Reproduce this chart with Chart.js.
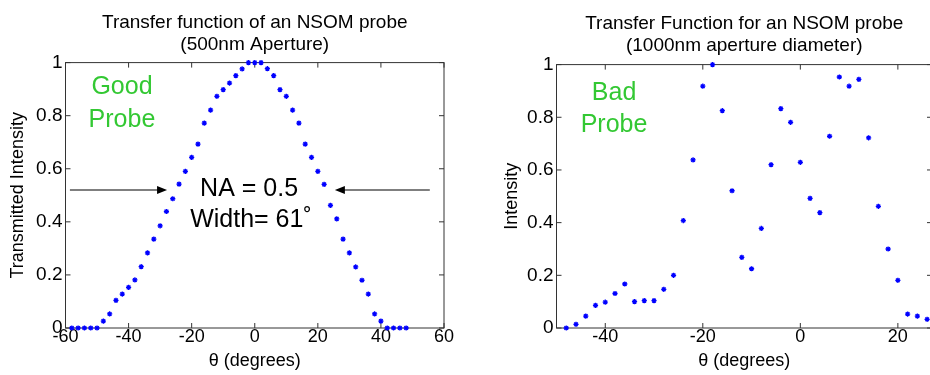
<!DOCTYPE html>
<html>
<head>
<meta charset="utf-8">
<script src="https://cdn.jsdelivr.net/npm/chart.js@4.4.1/dist/chart.umd.min.js"></script>
<style>
 body { margin: 0; width: 930px; height: 375px; overflow: hidden; background: #fff; position: relative; }
 canvas { position: absolute; top: 0; }
 #goodChart { left: 0; }
 #badChart { left: 465px; }
</style>
</head>
<body>
<canvas id="goodChart" width="465" height="375"></canvas>
<canvas id="badChart" width="480" height="375"></canvas>
<script>
// 500nm aperture probe (left)
const goodAngles = [-58, -56, -54, -52, -50, -48, -46, -44, -42, -40, -38, -36, -34, -32, -30, -28, -26, -24, -22, -20,
 -18, -16, -14, -12, -10, -8, -6, -4, -2, 0, 2, 4, 6, 8, 10, 12, 14, 16, 18, 20,
 22, 24, 26, 28, 30, 32, 34, 36, 38, 40, 42, 44, 46, 48];
const goodIntensity = [0, 0, 0, 0, 0, 0.026, 0.053, 0.104, 0.128, 0.153, 0.181, 0.231, 0.283, 0.335, 0.385, 0.439, 0.487, 0.542, 0.59, 0.643,
 0.693, 0.772, 0.821, 0.873, 0.898, 0.923, 0.951, 0.976, 1, 1, 1, 0.977, 0.951, 0.898, 0.873, 0.821, 0.772, 0.693, 0.643, 0.59,
 0.541, 0.462, 0.411, 0.335, 0.283, 0.23, 0.18, 0.128, 0.053, 0.026, 0, 0, 0, 0];

// 1000nm aperture probe (right)
const badAngles = [-48, -46, -44, -42, -40, -38, -36, -34, -32, -30, -28, -26, -24, -22, -20, -18, -16, -14, -12,
 -10, -8, -6, -4, -2, 0, 2, 4, 6, 8, 10, 12, 14, 16, 18, 20, 22, 24, 26];
const badIntensity = [0, 0.014, 0.045, 0.086, 0.098, 0.131, 0.167, 0.1, 0.104, 0.104, 0.147, 0.2, 0.408, 0.638, 0.918, 1.0, 0.825, 0.521, 0.268,
 0.225, 0.378, 0.62, 0.833, 0.781, 0.629, 0.492, 0.438, 0.728, 0.953, 0.918, 0.944, 0.722, 0.462, 0.3, 0.181, 0.053, 0.045, 0.033];

const goodXTicks = [-60, -40, -20, 0, 20, 40, 60];
const badXTicks = [-40, -20, 0, 20];
const yTicks = [0, 0.2, 0.4, 0.6, 0.8, 1];

const FONT = '"Liberation Sans", Arial, sans-serif';
const GREEN = '#33c833';
Chart.defaults.font.family = FONT;
Chart.defaults.color = '#000';

function toPoints(xs, ys) {
 return xs.map((x, i) => ({ x, y: ys[i] }));
}

// matlab style box with ticks pointing inward + text/arrow annotations
const boxPlugin = {
 id: 'matlabBox',
 beforeDatasetsDraw(chart) {
   const { ctx, chartArea: a, scales: { x, y } } = chart;
   ctx.save();
   ctx.strokeStyle = '#333';
   ctx.lineWidth = 1;
   ctx.strokeRect(a.left, a.top, a.right - a.left, a.bottom - a.top);
   ctx.beginPath();
   x.ticks.forEach(t => {
     const px = x.getPixelForValue(t.value);
     ctx.moveTo(px, a.bottom); ctx.lineTo(px, a.bottom - 5);
     ctx.moveTo(px, a.top); ctx.lineTo(px, a.top + 5);
   });
   y.ticks.forEach(t => {
     const py = y.getPixelForValue(t.value);
     ctx.moveTo(a.left, py); ctx.lineTo(a.left + 5, py);
     ctx.moveTo(a.right, py); ctx.lineTo(a.right - 5, py);
   });
   ctx.stroke();
   ctx.restore();
 },
 afterDraw(chart, args, opts) {
   const { ctx, scales: { x, y } } = chart;
   ctx.save();
   (opts.arrows || []).forEach(ar => {
     const x1 = x.getPixelForValue(ar.from[0]), y1 = y.getPixelForValue(ar.from[1]);
     const x2 = x.getPixelForValue(ar.to[0]), y2 = y.getPixelForValue(ar.to[1]);
     const dir = Math.sign(x2 - x1);
     ctx.strokeStyle = '#000';
     ctx.lineWidth = 1.2;
     ctx.beginPath();
     ctx.moveTo(x1, y1); ctx.lineTo(x2 - dir * 6, y2);
     ctx.stroke();
     ctx.fillStyle = '#000';
     ctx.beginPath();
     ctx.moveTo(x2, y2);
     ctx.lineTo(x2 - dir * 10, y2 - 4);
     ctx.lineTo(x2 - dir * 10, y2 + 4);
     ctx.closePath();
     ctx.fill();
   });
   (opts.labels || []).forEach(l => {
     ctx.font = `${l.size}px ${FONT}`;
     ctx.fillStyle = l.color;
     ctx.textAlign = 'center';
     ctx.textBaseline = 'middle';
     ctx.fillText(l.text, x.getPixelForValue(l.x), y.getPixelForValue(l.y));
   });
   ctx.restore();
 }
};

function makeChart(id, cfg) {
 return new Chart(document.getElementById(id), {
   type: 'scatter',
   data: {
     datasets: [{
       data: toPoints(cfg.xs, cfg.ys),
       pointStyle: 'star',
       pointRadius: 2.6,
       borderWidth: 1.3,
       borderColor: '#0000ff',
       backgroundColor: '#0000ff',
       clip: false,
     }],
   },
   options: {
     responsive: false,
     animation: false,
     events: [],
     layout: { autoPadding: false, padding: { left: 0, top: 0, bottom: 0, right: cfg.padRight } },
     scales: {
       x: {
         type: 'linear',
         min: cfg.xMin,
         max: cfg.xMax,
         afterBuildTicks: s => { s.ticks = cfg.xTicks.map(v => ({ value: v })); },
         afterFit: s => { s.height = 47; },
         grid: { display: false, drawTicks: false },
         border: { display: false },
         ticks: { font: { size: 18 }, padding: -2, color: '#000', maxRotation: 0, callback: v => String(v) },
         title: { display: true, text: 'θ (degrees)', font: { size: 18 }, padding: { top: 0, bottom: 3 } },
       },
       y: {
         min: 0,
         max: 1,
         afterBuildTicks: s => { s.ticks = yTicks.map(v => ({ value: v })); },
         afterFit: s => { s.width = cfg.yWidth; },
         grid: { display: false, drawTicks: false },
         border: { display: false },
         ticks: { font: { size: 19 }, padding: 3, color: '#000', callback: v => String(v) },
         title: { display: true, text: cfg.yTitle, font: { size: 18 }, padding: { top: cfg.yTitlePad, bottom: 0 } },
       },
     },
     plugins: {
       legend: { display: false },
       tooltip: { enabled: false },
       title: {
         display: true,
         text: cfg.title,
         fullSize: false,
         color: '#000',
         font: { size: 19, weight: 'normal', lineHeight: 1.2 },
         padding: cfg.titlePad,
       },
       matlabBox: { arrows: cfg.arrows, labels: cfg.labels },
     },
   },
   plugins: [boxPlugin],
 });
}

makeChart('goodChart', {
 xs: goodAngles, ys: goodIntensity,
 xMin: -60, xMax: 60, xTicks: goodXTicks,
 padRight: 21, yWidth: 65.5, yTitlePad: 7,
 yTitle: 'Transmitted Intensity',
 title: ['Transfer function of an NSOM probe', '(500nm Aperture)'],
 titlePad: { top: 11, bottom: 6 },
 arrows: [
   { from: [-58.6, 0.52], to: [-27.8, 0.52] },
   { from: [55.5, 0.52], to: [25.4, 0.52] },
 ],
 labels: [
   { text: 'Good', x: -42.1, y: 0.906, color: GREEN, size: 25 },
   { text: 'Probe', x: -42.1, y: 0.785, color: GREEN, size: 25 },
   { text: 'NA = 0.5', x: -1.8, y: 0.525, color: '#000', size: 25 },
   { text: 'Width= 61˚', x: -1.2, y: 0.408, color: '#000', size: 25 },
 ],
});

makeChart('badChart', {
 xs: badAngles, ys: badIntensity,
 xMin: -50, xMax: 27, xTicks: badXTicks,
 padRight: 13, yWidth: 91.5, yTitlePad: 36,
 yTitle: 'Intensity',
 title: ['Transfer Function for an NSOM probe', '(1000nm aperture diameter)'],
 titlePad: { top: 12, bottom: 7 },
 arrows: [],
 labels: [
   { text: 'Bad', x: -38.2, y: 0.893, color: GREEN, size: 25 },
   { text: 'Probe', x: -38.2, y: 0.772, color: GREEN, size: 25 },
 ],
});
</script>
</body>
</html>
